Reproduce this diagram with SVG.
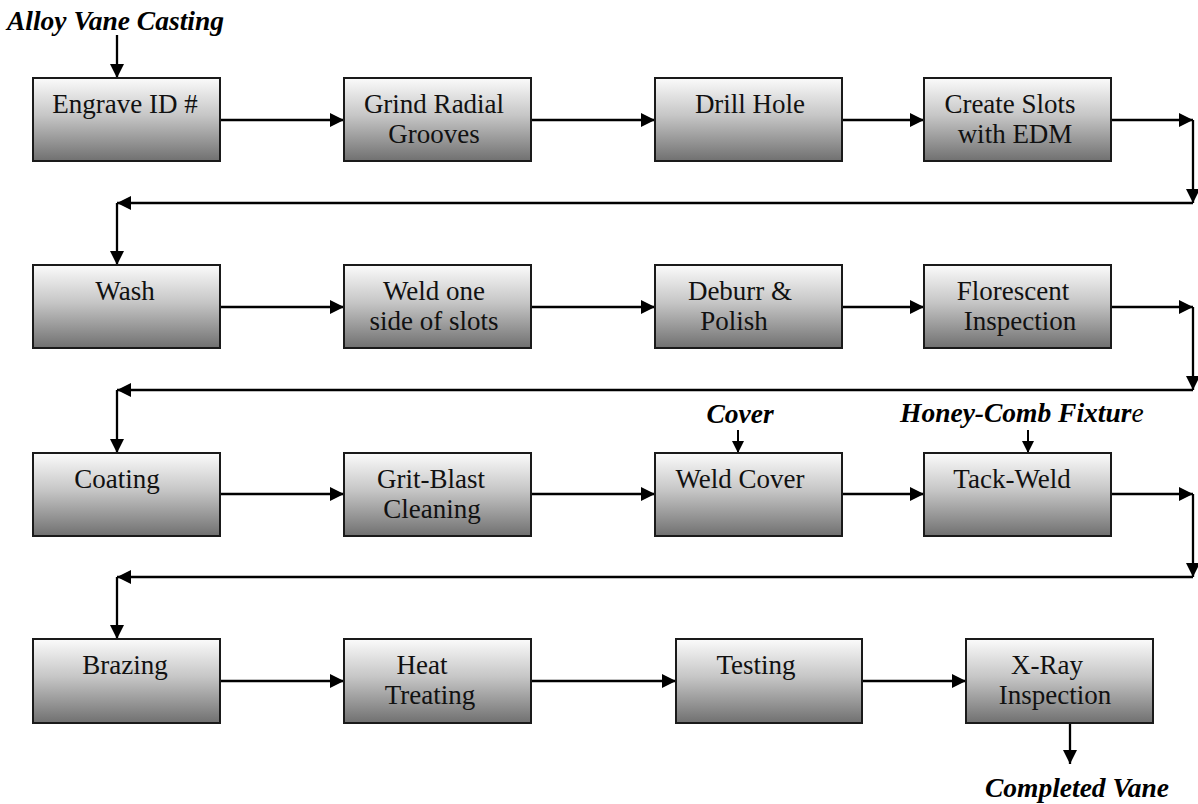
<svg xmlns="http://www.w3.org/2000/svg" width="1198" height="804" viewBox="0 0 1198 804">
<style>
.box{fill:url(#g);stroke:#1a1a1a;stroke-width:2}
.t{font-family:"Liberation Serif","Times New Roman",serif;font-size:27px;fill:#111;text-anchor:middle}
.lbl{font-family:"Liberation Serif","Times New Roman",serif;font-size:27.5px;font-weight:bold;font-style:italic;fill:#000}
.c{fill:none;stroke:#000;stroke-width:2.3;marker-end:url(#ah)}
.cs{fill:none;stroke:#000;stroke-width:2;marker-end:url(#ahs)}
</style>
<defs>
<linearGradient id="g" x1="0" y1="0" x2="0" y2="1">
<stop offset="0" stop-color="#fbfbfb"/>
<stop offset="0.45" stop-color="#c6c6c6"/>
<stop offset="1" stop-color="#707070"/>
</linearGradient>
<marker id="ah" markerUnits="userSpaceOnUse" viewBox="0 0 14 14" markerWidth="14" markerHeight="14" refX="14" refY="7" orient="auto">
<path d="M0,0 L14,7 L0,14 z" fill="#000"/>
</marker>
<marker id="ahs" markerUnits="userSpaceOnUse" viewBox="0 0 12 12" markerWidth="12" markerHeight="12" refX="12" refY="6" orient="auto">
<path d="M0,0 L12,6 L0,12 z" fill="#000"/>
</marker>
</defs>
<rect width="1198" height="804" fill="#fff"/>

<g id="connectors">
<path class="c" d="M117,35 V78"/>
<path class="c" d="M220,120 H344"/>
<path class="c" d="M531,120 H655"/>
<path class="c" d="M842,120 H924"/>
<path class="c" d="M1111,120 H1193"/>
<path class="c" d="M1193,120 V203"/>
<path class="c" d="M1193,203 H117"/>
<path class="c" d="M117,203 V265"/>
<path class="c" d="M220,307 H344"/>
<path class="c" d="M531,307 H655"/>
<path class="c" d="M842,307 H924"/>
<path class="c" d="M1111,307 H1193"/>
<path class="c" d="M1193,307 V390"/>
<path class="c" d="M1193,390 H117"/>
<path class="c" d="M117,390 V453"/>
<path class="c" d="M220,494 H344"/>
<path class="c" d="M531,494 H655"/>
<path class="cs" d="M738,430 V453"/>
<path class="c" d="M842,494 H924"/>
<path class="cs" d="M1028,430 V453"/>
<path class="c" d="M1111,494 H1193"/>
<path class="c" d="M1193,494 V577"/>
<path class="c" d="M1193,577 H117"/>
<path class="c" d="M117,577 V639"/>
<path class="c" d="M220,681 H344"/>
<path class="c" d="M531,681 H676"/>
<path class="c" d="M862,681 H966"/>
<path class="c" d="M1070,723 V764"/>
</g>

<g id="labels">
<text class="lbl" x="7" y="30">Alloy Vane Casting</text>
<text class="lbl" x="740" y="423" text-anchor="middle">Cover</text>
<text class="lbl" x="900" y="422">Honey-Comb Fixtur<tspan font-weight="normal">e</tspan></text>
<text class="lbl" x="1077" y="797" text-anchor="middle">Completed Vane</text>
</g>

<g id="n1"><rect class="box" x="33" y="78" width="187" height="83"/><text class="t" x="125" y="113">Engrave ID #</text></g>
<g id="n2"><rect class="box" x="344" y="78" width="187" height="83"/><text class="t" x="434" y="113">Grind Radial</text><text class="t" x="434" y="143">Grooves</text></g>
<g id="n3"><rect class="box" x="655" y="78" width="187" height="83"/><text class="t" x="750" y="113">Drill Hole</text></g>
<g id="n4"><rect class="box" x="924" y="78" width="187" height="83"/><text class="t" x="1010" y="113">Create Slots</text><text class="t" x="1015" y="143">with EDM</text></g>

<g id="n5"><rect class="box" x="33" y="265" width="187" height="83"/><text class="t" x="125" y="300">Wash</text></g>
<g id="n6"><rect class="box" x="344" y="265" width="187" height="83"/><text class="t" x="434" y="300">Weld one</text><text class="t" x="434" y="330">side of slots</text></g>
<g id="n7"><rect class="box" x="655" y="265" width="187" height="83"/><text class="t" x="740" y="300">Deburr &amp;</text><text class="t" x="734" y="330">Polish</text></g>
<g id="n8"><rect class="box" x="924" y="265" width="187" height="83"/><text class="t" x="1013" y="300">Florescent</text><text class="t" x="1020" y="330">Inspection</text></g>

<g id="n9"><rect class="box" x="33" y="453" width="187" height="83"/><text class="t" x="117" y="488">Coating</text></g>
<g id="n10"><rect class="box" x="344" y="453" width="187" height="83"/><text class="t" x="431" y="488">Grit-Blast</text><text class="t" x="432" y="518">Cleaning</text></g>
<g id="n11"><rect class="box" x="655" y="453" width="187" height="83"/><text class="t" x="740" y="488">Weld Cover</text></g>
<g id="n12"><rect class="box" x="924" y="453" width="187" height="83"/><text class="t" x="1012" y="488">Tack-Weld</text></g>

<g id="n13"><rect class="box" x="33" y="639" width="187" height="84"/><text class="t" x="125" y="674">Brazing</text></g>
<g id="n14"><rect class="box" x="344" y="639" width="187" height="84"/><text class="t" x="422" y="674">Heat</text><text class="t" x="430" y="704">Treating</text></g>
<g id="n15"><rect class="box" x="676" y="639" width="186" height="84"/><text class="t" x="756" y="674">Testing</text></g>
<g id="n16"><rect class="box" x="966" y="639" width="187" height="84"/><text class="t" x="1047" y="674">X-Ray</text><text class="t" x="1055" y="704">Inspection</text></g>
</svg>
